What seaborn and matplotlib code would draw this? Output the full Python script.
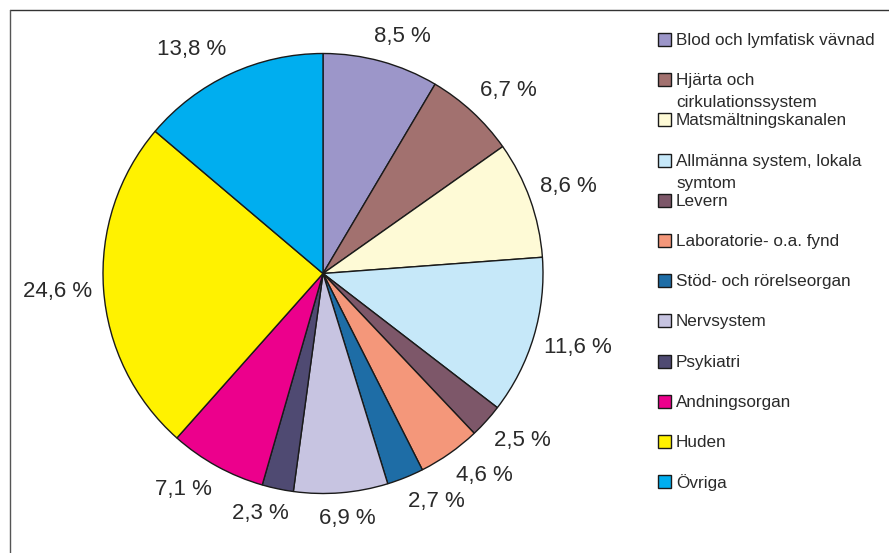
import numpy as np
import matplotlib
matplotlib.use("Agg")
import matplotlib.pyplot as plt
import seaborn as sns
from matplotlib.patches import Rectangle
from matplotlib.lines import Line2D

categories = [
    "Blod och lymfatisk vävnad",
    "Hjärta och\ncirkulationssystem",
    "Matsmältningskanalen",
    "Allmänna system, lokala\nsymtom",
    "Levern",
    "Laboratorie- o.a. fynd",
    "Stöd- och rörelseorgan",
    "Nervsystem",
    "Psykiatri",
    "Andningsorgan",
    "Huden",
    "Övriga",
]
values = [8.5, 6.7, 8.6, 11.6, 2.5, 4.6, 2.7, 6.9, 2.3, 7.1, 24.6, 13.8]
colors = ["#9C96C9", "#A2716F", "#FEFAD6", "#C6E8F9", "#7D5769", "#F4977A",
          "#1E6DA6", "#C7C4E1", "#4F4A72", "#EC008C", "#FFF200", "#00AEEF"]

sns.set_theme(style="white")
plt.rcParams["font.family"] = ["Liberation Sans", "DejaVu Sans"]
TXT = "#2a2a2a"

W, H = 889, 553
fig = plt.figure(figsize=(W / 100, H / 100), dpi=100)
fig.patch.set_facecolor("white")

# pie axes: centre (323, 273.5) px, radius 220 px
cx, cy, R, L = 323, 273.5, 220, 1.3
size = 2 * L * R
ax = fig.add_axes([(cx - size / 2) / W, (H - cy - size / 2) / H, size / W, size / H])
pal = sns.color_palette(colors)
wedges, _, autotexts = ax.pie(
    values, colors=pal, startangle=90, counterclock=False,
    autopct=lambda p: "", pctdistance=1.2,
    wedgeprops=dict(edgecolor="#1a1a1a", linewidth=1.0),
)
ax.set_xlim(-L, L)
ax.set_ylim(-L, L)
ax.set_aspect("equal")
ax.axis("off")

for t, v in zip(autotexts, values):
    t.set_text(f"{v:.1f} %".replace(".", ","))
    t.set_fontsize(16)
    t.set_color(TXT)
    t.set_ha("center")
    t.set_va("center")

# Excel-like "outside end" label placement
fig.canvas.draw()
rend = fig.canvas.get_renderer()
ppd = ax.transData.transform((1, 0))[0] - ax.transData.transform((0, 0))[0]
gx, gy = 11 / ppd, 17 / ppd
for t, w in zip(autotexts, wedges):
    ang = np.deg2rad((w.theta1 + w.theta2) / 2)
    c, s = np.cos(ang), np.sin(ang)
    bb = t.get_window_extent(rend)
    hw = bb.width / 2 / ppd
    hh = 8.5 / ppd
    x = (1 + gx) * c + hw * np.clip(2.5 * c, -1, 1)
    y = (1 + gy) * s + hh * np.clip(2.5 * s, -1, 1)
    t.set_position((x, y))

# legend drawn manually (Excel style)
y0, dy = 39.5, 40.2
for i, (lab, col) in enumerate(zip(categories, colors)):
    y = y0 + dy * i
    fig.patches.append(Rectangle((658 / W, 1 - (y + 6.5) / H), 13 / W, 13 / H,
                                 transform=fig.transFigure, facecolor=col,
                                 edgecolor="#1a1a1a", linewidth=1.0))
    for j, line in enumerate(lab.split("\n")):
        fig.text(676 / W, 1 - (y + 1 + 22 * j) / H, line, fontsize=12.3,
                 color=TXT, ha="left", va="center")

# chart frame (top and left edges visible)
fig.lines.append(Line2D([10 / W, 1.01], [1 - 10 / H] * 2, transform=fig.transFigure,
                        color="#333333", linewidth=1.0))
fig.lines.append(Line2D([10 / W] * 2, [1 - 10 / H, -0.01], transform=fig.transFigure,
                        color="#555555", linewidth=1.0))

fig.savefig("out.png", dpi=100, facecolor="white")
